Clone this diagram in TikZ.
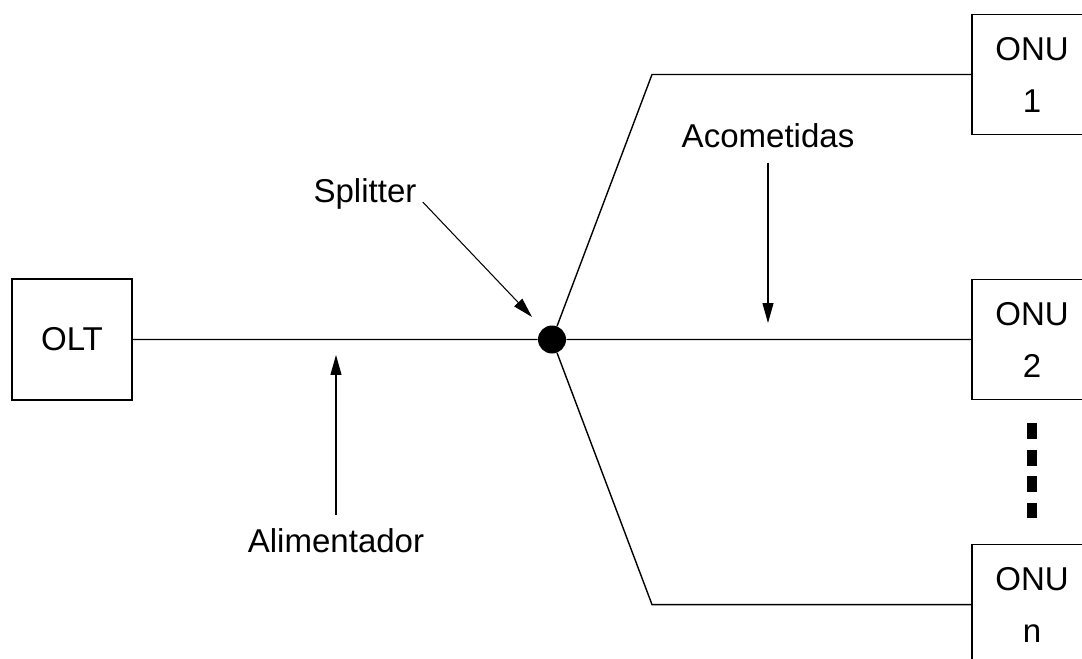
\documentclass[tikz,border=0pt]{standalone}
\usepackage{fontspec}
\setmainfont{Liberation Sans}
\usetikzlibrary{arrows.meta, positioning}
\tikzset{
  terminal/.style = {draw, line width=0.9pt, align=center,
                     font=\fontsize{18.8}{29.6}\selectfont, inner sep=0pt,
                     minimum width=2.4cm, minimum height=2.4cm},
  note/.style     = {font=\fontsize{18.8}{22}\selectfont, anchor=base},
  fiber/.style    = {-, line width=0.8pt},
  pointer/.style  = {-{Triangle[length=0.4cm, width=0.22cm]}, line width=0.6pt},
  splitdot/.style = {circle, fill, inner sep=0pt, minimum size=0.56cm},
  gapmark/.style  = {line width=0.2cm, dash pattern=on 0.32cm off 0.21cm},
}

\begin{document}
\begin{tikzpicture}[x=0.02cm, y=-0.02cm, node distance=2.87cm]
  \clip (0,0) rectangle (1082,659);

  \node[terminal, minimum height=2.42cm] (olt) at (72,339.5) {OLT};
  \node[terminal]                 (onu1) at (1032,74.5) {ONU\\1};
  \node[terminal, below=of onu1]  (onu2) {ONU\\2};
  \node[terminal, below=of onu2]  (onun) {ONU\\n};
  \node[splitdot]                 (split) at (552,339.5) {};

  \coordinate (bend) at (652,0);
  \draw[fiber] (olt) -- (split) -- (onu2);
  \draw[fiber] (split) -- (bend |- onu1) -- (onu1);
  \draw[fiber] (split) -- (bend |- onun) -- (onun);
  \draw[gapmark, shorten <=0.46cm, shorten >=0.52cm] (onu2) -- (onun);

  \node[note, inner sep=0.12cm] (splitter) at (365,202) {Splitter};
  \node[note, inner sep=0.3cm]  (acom)     at (768,147) {Acometidas};
  \node[note, inner sep=0.26cm] (alim)     at (336,552) {Alimentador};
  \coordinate (splittip) at (532,317);
  \coordinate (droptip)  at (768,323);
  \coordinate (feedtip)  at (336,355);
  \draw[pointer] (splitter.base east) -- (splittip);
  \draw[pointer] (acom) -- (droptip);
  \draw[pointer] (alim) -- (feedtip);
\end{tikzpicture}
\end{document}
